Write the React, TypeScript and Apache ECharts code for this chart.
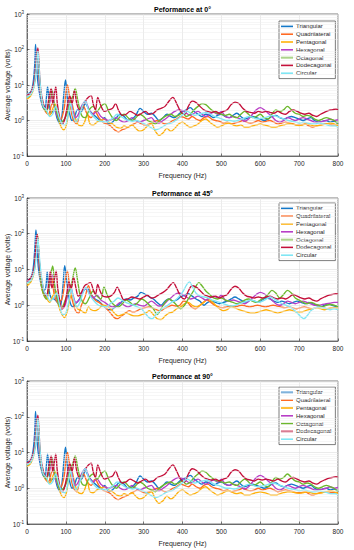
import React, { useEffect, useRef } from "react";
import * as echarts from "echarts";

const FONT = '"Liberation Sans", Arial, Helvetica, sans-serif';

const NAMES = ["Triangular", "Quadrilateral", "Pentagonal", "Hexagonal", "Octagonal", "Dodecagonal", "Circular"];
const COLORS = ["#1478c8", "#ff6a24", "#ffb10a", "#b83ec6", "#6cb82c", "#c4103a", "#80e6f4"];
const TITLES = ["Peformance at 0°", "Peformance at 45°", "Peformance at 90°"];
const X_TICKS = [0, 100, 200, 300, 400, 500, 600, 700, 800];
const Y_MIN = 0.1;
const Y_MAX = 1000;

// ---- 0° (also read identical for 90°) ----
const TRI_0 = [[0,5.5],[10,6.5],[16,12],[20,40],[22,140],[24,60],[27,15],[32,6],[40,2.5],[46,2],[50,4.5],[53,9],[57,3.5],[62,1.6],[70,2],[78,1.1],[85,0.8],[90,1.4],[95,6],[99,14],[104,4],[110,1.5],[116,1],[122,1.2],[130,2],[140,1.8],[150,3],[160,2],[170,1.5],[180,1.2],[190,1],[200,1.2],[210,0.8],[220,0.9],[230,1.2],[240,1.5],[250,1.3],[260,1],[270,1.1],[280,1.4],[291,2.2],[300,1.8],[310,1.5],[320,1.6],[330,1.3],[340,1],[350,1.2],[360,1.5],[370,1.3],[380,1.2],[390,1.5],[400,1.8],[410,2],[420,2.3],[430,1.8],[440,1.5],[450,1.3],[460,1.5],[470,1.4],[480,1.2],[490,1.4],[500,1.5],[510,1.3],[520,1.2],[530,1.4],[540,1.6],[550,1.3],[560,1.1],[570,1.2],[580,1.3],[590,1.2],[600,1.1],[610,1],[620,1.1],[630,1.3],[640,1.4],[650,1.2],[660,1.1],[670,1.2],[680,1.3],[690,1.2],[700,1.1],[710,1],[720,1.1],[730,1.2],[740,1],[750,0.9],[760,0.95],[770,1],[780,0.9],[790,0.95],[800,0.8]];
const QUA_0 = [[0,5],[10,6],[18,11],[23,35],[27,100],[30,40],[35,6],[45,2],[55,1.5],[65,3],[75,1.8],[85,1],[95,2],[100,6],[104,10],[110,4],[115,1.5],[120,1],[128,0.8],[135,1.5],[145,2.5],[155,1.5],[165,1.2],[175,1.8],[185,1.2],[195,0.9],[205,0.8],[215,0.7],[225,0.55],[235,0.48],[245,0.55],[255,0.6],[265,0.7],[275,0.8],[285,0.9],[295,0.8],[305,0.75],[315,0.8],[325,0.9],[335,1],[345,0.9],[355,0.8],[365,0.85],[375,1],[385,1.1],[395,1.3],[405,1.2],[415,1.1],[425,1.3],[435,1.1],[445,1],[455,1.2],[465,1.3],[475,1.1],[485,1],[495,0.95],[505,0.85],[515,0.9],[525,0.8],[535,0.85],[545,0.9],[555,1],[565,0.9],[575,0.85],[585,0.9],[595,1],[605,0.9],[615,0.95],[625,1],[635,0.9],[645,0.8],[655,0.85],[665,0.9],[675,0.85],[685,0.8],[695,0.75],[705,0.75],[715,0.8],[725,0.7],[735,0.65],[745,0.7],[755,0.75],[765,0.8],[775,0.8],[785,0.75],[800,0.75]];
const PEN_0 = [[0,4],[10,5],[18,9],[23,30],[27,90],[30,35],[34,8],[42,2.5],[50,1.8],[58,1.4],[65,2],[72,3],[80,1.2],[88,0.65],[95,0.55],[102,0.8],[108,2],[115,3],[122,1.5],[130,0.8],[140,0.7],[148,0.9],[155,1.5],[162,0.8],[170,0.75],[180,0.9],[190,1],[200,1.1],[210,0.9],[220,0.8],[230,0.65],[240,0.6],[250,0.7],[260,0.65],[270,0.75],[280,0.6],[290,0.5],[300,0.55],[310,0.7],[320,0.8],[330,0.5],[340,0.38],[350,0.45],[360,0.6],[370,0.5],[380,0.6],[390,0.8],[400,0.9],[410,0.75],[420,0.65],[430,0.7],[440,0.8],[450,1],[460,1.1],[470,0.9],[480,0.75],[490,0.65],[500,0.7],[510,0.8],[520,0.85],[530,0.75],[540,0.7],[550,0.75],[560,0.65],[570,0.65],[580,0.7],[590,0.75],[600,0.8],[610,0.75],[620,0.7],[630,0.65],[640,0.65],[650,0.7],[660,0.75],[670,0.8],[680,0.8],[690,0.75],[700,0.72],[710,0.75],[720,0.8],[730,0.75],[740,0.7],[750,0.72],[760,0.75],[770,0.8],[780,0.85],[790,0.8],[800,0.7]];
const HEX_0 = [[0,5],[10,6],[18,11],[22,35],[26,100],[29,40],[33,8],[42,2.5],[50,2],[58,3],[65,7],[72,2],[80,1.2],[88,0.9],[95,1],[105,2],[112,4],[118,2],[125,1.2],[132,1.5],[140,2.5],[150,3.5],[160,2],[170,1.5],[180,1.8],[190,1.3],[200,1.1],[210,1],[220,1.1],[230,1.2],[240,1],[250,0.9],[260,1],[270,1.2],[280,1],[290,0.9],[300,1],[310,1.1],[320,1.2],[330,0.9],[340,0.85],[350,1],[360,1.2],[370,1.5],[380,1.8],[390,2],[400,1.9],[410,1.6],[420,1.4],[430,1.6],[440,1.8],[450,1.5],[460,1.3],[470,1.5],[480,1.7],[490,1.5],[500,1.8],[510,1.3],[520,1.2],[530,1.3],[540,1.2],[550,1.1],[560,0.95],[570,1.1],[580,1.5],[590,2],[600,2.3],[610,2],[620,1.6],[630,1.3],[640,1],[650,0.9],[660,1],[670,1.2],[680,1.1],[690,1],[700,1.1],[710,1.2],[720,1.1],[730,1],[740,0.9],[750,0.9],[760,0.95],[770,1],[780,1.1],[790,1],[800,1.05]];
const OCT_0 = [[0,4.5],[10,5.5],[18,10],[23,32],[27,95],[30,38],[34,8],[42,2.5],[50,1.8],[58,4],[63,7.5],[70,3],[78,1.5],[86,0.9],[94,1],[102,1.5],[110,3],[118,5],[124,8],[130,4],[136,2],[142,1.3],[150,1.2],[160,2],[170,2.5],[180,1.8],[190,2.5],[200,3],[210,1.8],[220,1.2],[230,1],[240,1.3],[250,1.5],[260,1.2],[270,1],[280,1.2],[290,1.5],[300,1.3],[310,1],[320,0.9],[330,0.8],[340,1],[350,1.2],[360,1.4],[370,1.5],[380,1.3],[390,1.4],[400,1.6],[410,1.3],[420,1.5],[430,2],[440,2.5],[450,3],[460,2.8],[470,2.2],[480,1.8],[490,1.6],[500,1.5],[510,1.4],[520,1.5],[530,1.3],[540,1.2],[550,1.5],[560,1.8],[570,1.5],[580,1.2],[590,1.3],[600,1.5],[610,1.2],[620,1.1],[630,1.5],[640,2],[650,1.8],[660,2],[670,2.5],[680,2],[690,1.6],[700,1.5],[710,1.3],[720,1.4],[730,1.3],[740,1.1],[750,1],[760,1.1],[770,1.2],[780,1.1],[790,1],[800,0.8]];
const DOD_0 = [[0,5],[10,6],[18,11],[24,35],[28,110],[31,40],[34,10],[42,3],[50,2],[56,4],[62,8],[66,3],[70,5],[74,9],[78,3],[84,1.2],[90,0.8],[96,1],[102,2],[110,5],[116,3],[122,7],[128,3],[135,2],[142,2.5],[150,3.5],[158,4.5],[165,5],[170,3],[176,2],[182,4.5],[188,3],[195,2],[200,1.8],[210,2],[220,2.2],[228,3],[235,2],[245,1.4],[255,1.5],[265,1.8],[275,1.6],[285,1.4],[295,1.6],[305,1.8],[315,1.5],[325,1.6],[335,2],[345,2.2],[355,2.5],[365,3.5],[375,4.5],[385,3],[395,1.8],[405,1.5],[415,2.5],[425,3.5],[435,3.2],[445,2.5],[455,2],[465,1.8],[475,1.7],[485,1.8],[495,1.6],[505,1.8],[515,2],[525,2.8],[535,3.3],[545,3],[555,2.2],[565,1.8],[575,1.7],[585,1.6],[595,1.8],[605,1.7],[615,1.8],[625,1.7],[635,1.6],[645,1.8],[655,1.6],[665,1.5],[675,1.8],[685,2],[695,1.8],[705,1.6],[715,1.5],[725,1.6],[735,1.4],[745,1.3],[755,1.5],[765,1.7],[775,1.9],[785,2],[795,2.1],[800,2]];
const CIR_0 = [[0,4.5],[10,5.5],[18,9],[24,30],[28,90],[31,35],[35,8],[42,2.5],[50,2],[58,1.3],[66,1.5],[74,2.5],[82,1.3],[90,0.8],[98,0.75],[106,1.5],[112,3],[118,1.5],[126,0.9],[134,1.3],[142,2.5],[150,3.5],[158,2],[166,1.5],[174,1.2],[182,1],[192,0.95],[202,0.9],[212,1],[222,1.2],[232,1.5],[242,1.3],[252,1.1],[262,1],[272,0.95],[282,1],[292,0.9],[302,0.8],[312,0.7],[322,0.6],[332,0.55],[342,0.6],[352,0.7],[362,0.8],[372,0.85],[382,1],[392,1.2],[402,1.5],[412,1.8],[422,1.6],[432,1.4],[442,1.5],[452,1.6],[462,1.7],[472,1.5],[482,1.3],[492,1.2],[502,1.1],[512,1],[522,1],[532,0.95],[542,1],[552,1.1],[562,1.2],[572,1.3],[582,1.2],[592,1.1],[602,1.15],[612,1.2],[622,1.3],[632,1.4],[642,1.3],[652,1.2],[662,1.1],[672,1],[682,0.95],[692,0.9],[702,0.85],[712,0.9],[722,0.85],[732,0.8],[742,0.8],[752,0.85],[762,0.8],[772,0.75],[782,0.7],[792,0.7],[800,0.65]];

// ---- 45° ----
const TRI_45 = [[0,5],[10,6],[16,11],[20,38],[23,128],[26,45],[29,12],[34,5],[42,2.5],[48,3],[52,8.5],[56,3],[62,1.6],[70,1.5],[78,1.2],[85,0.9],[92,3],[97,12.8],[103,4],[110,1.3],[118,0.9],[125,1.1],[135,1.5],[145,2.5],[155,3],[165,2],[175,1.5],[185,1.3],[195,1],[205,0.8],[215,0.75],[225,0.85],[235,1],[245,1.3],[255,1.5],[265,1.4],[275,1.6],[285,1.8],[293,2.3],[305,2],[315,1.7],[325,1.5],[335,1.2],[345,1],[355,1.3],[365,1.5],[375,1.3],[385,1.4],[395,1.7],[405,1.9],[415,2.1],[425,1.8],[435,1.5],[445,1.3],[455,1],[465,1.2],[475,1.3],[485,1.2],[495,1.1],[505,1.2],[515,1.3],[525,1.5],[535,1.7],[545,1.5],[555,1.3],[565,1.2],[575,1.4],[585,1.3],[595,1.2],[605,1.4],[615,1.6],[625,1.5],[635,1.3],[645,1.2],[655,1.3],[665,1.2],[675,1.1],[685,1.2],[695,1.3],[705,1.2],[715,1.1],[725,1.2],[735,1.1],[745,1],[755,0.9],[765,1],[775,1.1],[785,1],[800,0.9]];
const QUA_45 = [[0,4.5],[10,5.5],[18,10],[23,32],[27,95],[30,35],[34,7],[40,2.5],[50,1.5],[58,3.5],[64,6],[70,2],[80,1.2],[90,1.5],[98,5],[104,9],[110,3],[118,1.2],[125,0.7],[132,0.6],[140,1],[150,1.8],[158,3.5],[165,2],[175,1.4],[185,1.2],[195,1],[205,0.8],[215,0.6],[225,0.45],[233,0.42],[243,0.5],[253,0.6],[263,0.7],[273,0.65],[283,0.7],[293,0.8],[303,0.85],[313,0.9],[323,0.85],[333,0.75],[343,0.7],[353,0.8],[363,0.9],[373,1],[383,0.95],[393,1],[403,1.3],[413,1.2],[423,0.9],[433,0.8],[443,0.95],[453,1.2],[463,1.4],[473,1.2],[483,1],[493,0.9],[503,0.85],[513,0.9],[523,0.95],[533,0.9],[543,0.95],[553,1],[563,0.95],[573,0.9],[583,0.95],[593,1],[603,0.95],[613,0.9],[623,0.95],[633,1],[643,0.95],[653,0.9],[663,0.85],[673,0.9],[683,0.85],[693,0.8],[703,0.85],[713,0.9],[723,0.85],[733,0.8],[743,0.85],[753,0.9],[763,0.85],[773,0.8],[783,0.85],[800,0.85]];
const PEN_45 = [[0,3.5],[10,4.5],[18,8],[23,27],[27,80],[30,30],[34,7],[40,2.5],[50,1.6],[58,1.2],[66,1.8],[74,2.5],[82,0.9],[90,0.55],[96,0.45],[104,0.7],[110,1.5],[116,2],[122,1.2],[130,0.8],[140,0.7],[150,0.6],[158,0.9],[165,0.75],[175,0.7],[185,0.8],[195,1],[205,0.95],[215,0.8],[225,0.6],[235,0.5],[245,0.55],[255,0.6],[265,0.55],[275,0.5],[285,0.5],[295,0.55],[305,0.6],[315,0.7],[325,0.55],[335,0.42],[345,0.4],[355,0.5],[365,0.6],[375,0.65],[385,0.8],[395,0.9],[405,1.1],[415,1.2],[425,1],[435,0.9],[445,1],[455,1.2],[465,1.5],[475,1.3],[485,1],[495,0.8],[505,0.7],[515,0.75],[525,0.9],[535,0.85],[545,0.75],[555,0.7],[565,0.65],[575,0.6],[585,0.6],[595,0.65],[605,0.7],[615,0.75],[625,0.7],[635,0.65],[645,0.6],[655,0.65],[665,0.7],[675,0.75],[685,0.7],[695,0.65],[705,0.65],[715,0.7],[725,0.75],[735,0.8],[745,0.85],[755,0.8],[765,0.75],[775,0.8],[785,0.85],[800,0.8]];
const HEX_45 = [[0,4.5],[10,5.5],[18,10],[22,30],[26,90],[29,35],[33,8],[40,3],[50,2],[58,3.5],[66,7],[74,2],[82,1.1],[90,0.8],[98,1],[106,2.2],[112,3.5],[118,2],[126,1.2],[134,1.4],[142,2.2],[150,3],[160,2.2],[170,1.6],[180,1.9],[190,1.4],[200,1.2],[210,1],[220,0.9],[230,1],[240,1.2],[250,1],[260,0.9],[270,1],[280,1.1],[290,1],[300,0.95],[310,1.1],[320,1.3],[330,1.1],[340,0.95],[350,1],[360,1.3],[370,1.6],[380,2],[390,2.2],[400,2],[410,1.7],[420,1.5],[430,1.6],[440,1.8],[450,1.6],[460,1.4],[470,1.6],[480,1.8],[490,1.6],[500,1.9],[510,1.4],[520,1.3],[530,1.4],[540,1.3],[550,1.2],[560,1.1],[570,1.3],[580,1.6],[590,2],[600,2.3],[610,2.1],[620,1.7],[630,1.4],[640,1.1],[650,1],[660,1.1],[670,1.3],[680,1.2],[690,1.1],[700,1.2],[710,1.3],[720,1.2],[730,1.1],[740,1],[750,1],[760,1.05],[770,1.1],[780,1.15],[790,1.2],[800,1.2]];
const OCT_45 = [[0,4],[10,5],[18,9],[23,30],[27,90],[30,35],[34,7],[40,2.5],[50,1.5],[56,3],[62,8],[66,12.5],[72,3],[80,1.2],[88,0.8],[96,1.2],[104,2],[112,3],[118,6],[124,11],[130,5],[136,2],[142,1.3],[150,1.1],[160,1.6],[170,2.5],[180,1.8],[190,1.5],[198,3.2],[206,2],[215,1.3],[225,1],[235,0.9],[245,1.1],[255,1.4],[265,1.2],[275,1],[285,1.2],[295,1.5],[305,1.3],[315,1],[325,0.8],[335,0.55],[345,0.8],[355,1.2],[365,1.5],[375,1.3],[385,1],[395,0.8],[405,1],[415,1.5],[425,2.2],[435,3.5],[442,4.3],[450,3.5],[460,2.5],[470,2],[480,1.6],[490,1.5],[500,1.6],[510,1.4],[520,1.3],[530,1.2],[540,1.1],[550,1.2],[560,1.4],[570,1.5],[580,1.3],[590,1.2],[600,1.4],[610,1.6],[620,2],[630,2.6],[640,2.2],[650,1.6],[660,2],[670,2.6],[680,2.2],[690,1.6],[700,1.4],[710,1.2],[720,1.1],[730,1.2],[740,1.1],[750,1],[760,0.9],[770,1],[780,1.05],[790,1],[800,0.9]];
const DOD_45 = [[0,4.8],[10,5.8],[18,10],[22,30],[26,95],[29,40],[34,10],[42,3],[50,1.8],[56,4],[60,9],[64,3],[70,5],[75,9],[79,3],[85,1.2],[90,0.8],[96,1],[102,2],[108,4.5],[114,3],[120,6],[126,3],[132,1.8],[140,2.3],[148,3.5],[156,4],[163,4.3],[170,2.8],[176,2],[182,3.8],[188,2.5],[195,1.8],[205,1.7],[215,1.8],[225,2.3],[232,3.2],[240,2.2],[250,1.4],[260,1.5],[270,1.7],[280,1.6],[290,1.5],[300,1.7],[310,1.9],[320,1.6],[330,1.7],[340,2],[350,2.3],[360,2.8],[370,3.8],[376,4.3],[385,3],[395,1.8],[405,1.5],[415,2.5],[425,3.5],[435,3.2],[445,2.6],[455,2],[465,1.8],[475,1.7],[485,1.8],[495,1.6],[505,1.8],[515,2],[525,2.8],[535,3.4],[545,3],[555,2.2],[565,1.8],[575,1.7],[585,1.6],[595,1.7],[605,1.6],[615,1.7],[625,1.8],[635,1.6],[645,1.5],[655,1.6],[665,1.5],[675,1.7],[685,2],[695,1.8],[705,1.6],[715,1.5],[725,1.6],[735,1.4],[745,1.3],[755,1.5],[765,1.7],[775,1.9],[785,2],[795,2.1],[800,2.05]];
const CIR_45 = [[0,4.2],[10,5],[18,8],[24,25],[28,75],[31,30],[36,8],[44,2.5],[52,1.8],[60,1.3],[68,1.6],[76,2.2],[84,1],[92,0.55],[100,0.6],[108,1.4],[114,2.8],[120,1.5],[128,0.9],[136,1.2],[144,2.2],[152,3.2],[160,2],[168,1.5],[176,1.2],[184,1],[194,0.95],[204,0.9],[214,1.1],[224,1.3],[234,1.6],[244,1.4],[254,1.2],[264,1.1],[274,1],[284,0.9],[294,0.8],[304,0.6],[314,0.45],[322,0.42],[332,0.55],[342,0.7],[352,0.85],[362,1],[372,1.2],[382,1.4],[392,1.8],[402,2.5],[411,3.8],[418,4.5],[426,3.2],[436,2.1],[446,1.8],[456,1.7],[466,1.6],[476,1.4],[486,1.3],[496,1.2],[506,1.1],[516,1],[526,0.95],[536,1],[546,1.1],[556,1.2],[566,1.3],[576,1.4],[586,1.3],[596,1.2],[606,1.3],[616,1.5],[626,1.7],[636,1.5],[646,1.3],[656,1.1],[666,1],[676,0.9],[686,0.75],[696,0.6],[704,0.48],[712,0.42],[720,0.5],[730,0.7],[740,0.85],[750,0.9],[760,0.85],[770,0.8],[780,0.75],[790,0.8],[800,0.75]];

const PANELS = [
  [TRI_0, QUA_0, PEN_0, HEX_0, OCT_0, DOD_0, CIR_0],
  [TRI_45, QUA_45, PEN_45, HEX_45, OCT_45, DOD_45, CIR_45],
  [TRI_0, QUA_0, PEN_0, HEX_0, OCT_0, DOD_0, CIR_0],
];

const MINOR_Y = [0.2, 0.3, 0.4, 0.5, 0.6, 0.7, 0.8, 0.9, 2, 3, 4, 5, 6, 7, 8, 9, 20, 30, 40, 50, 60, 70, 80, 90, 200, 300, 400, 500, 600, 700, 800, 900];

const GRIDS = [
  { top: 14, height: 142, legendTop: 21, titleY: 9 },
  { top: 198, height: 143, legendTop: 203, titleY: 193 },
  { top: 381, height: 143, legendTop: 387, titleY: 376 },
];
const LEFT = 27;
const WIDTH = 311;
const AXIS_COLOR = "#262626";

export default function App() {
  const ref = useRef<HTMLDivElement>(null);
  useEffect(() => {
    if (!ref.current) return;
    const chart = echarts.init(ref.current, undefined, { renderer: "svg" });
    const grid: any[] = [];
    const xAxis: any[] = [];
    const yAxis: any[] = [];
    const legend: any[] = [];
    const series: any[] = [];
    const graphic: any[] = [];
    GRIDS.forEach((g, i) => {
      grid.push({
        left: LEFT, top: g.top, width: WIDTH, height: g.height,
        containLabel: false, outerBoundsMode: "none",
        show: true, borderColor: AXIS_COLOR, borderWidth: 0.6, backgroundColor: "#fff",
      });
      xAxis.push({
        type: "value", gridIndex: i, min: X_TICKS[0], max: X_TICKS[X_TICKS.length - 1], interval: 100,
        name: "Frequency (Hz)", nameLocation: "middle", nameGap: 16, nameMoveOverlap: false,
        nameTextStyle: { fontFamily: FONT, fontSize: 7, color: "#262626" },
        axisLine: { show: true, lineStyle: { color: AXIS_COLOR, width: 0.6 } },
        axisTick: { show: true, inside: true, length: 2.5, lineStyle: { color: AXIS_COLOR, width: 0.6 } },
        axisLabel: { fontFamily: FONT, fontSize: 6.5, color: "#262626", margin: 4 },
        splitLine: { show: true, lineStyle: { color: "#dedede", width: 0.6 } },
      });
      yAxis.push({
        type: "log", logBase: 10, gridIndex: i, min: Y_MIN, max: Y_MAX,
        name: "Average voltage (volts)", nameLocation: "middle", nameGap: 20, nameMoveOverlap: false,
        nameTextStyle: { fontFamily: FONT, fontSize: 7, color: "#262626", verticalAlign: "middle" },
        axisLine: { show: true, lineStyle: { color: AXIS_COLOR, width: 0.6 } },
        axisTick: { show: true, inside: true, length: 2.5, lineStyle: { color: AXIS_COLOR, width: 0.6 } },
        axisLabel: {
          fontFamily: FONT, fontSize: 6.5, color: "#262626", margin: 3, lineHeight: 9,
          formatter: (v: number) => `10{sup|${Math.round(Math.log10(v))}}`,
          rich: { sup: { fontFamily: FONT, fontSize: 4.5, lineHeight: 9, verticalAlign: "top", color: "#262626" } },
        },
        splitLine: { show: true, lineStyle: { color: "#dedede", width: 0.6 } },
      });
      legend.push({
        orient: "vertical", left: 279, top: g.legendTop, data: NAMES,
        icon: "rect", itemWidth: 12, itemHeight: 1.6, itemGap: 1,
        textStyle: { fontFamily: FONT, fontSize: 6, lineHeight: 6.8, color: "#262626", padding: [0, 0, 0, -2] },
        borderColor: AXIS_COLOR, borderWidth: 0.6, backgroundColor: "#fff",
        padding: [2, 4, 2, 2], selectedMode: false,
      });
      series.push({
        type: "line", name: "minor-grid-" + i, xAxisIndex: i, yAxisIndex: i,
        data: [[0, 1], [800, 1]], symbol: "none", lineStyle: { opacity: 0 }, silent: true, z: 1,
        markLine: {
          silent: true, symbol: "none", label: { show: false },
          lineStyle: { color: "#ececec", width: 0.5, type: "solid" },
          data: MINOR_Y.map((v) => ({ yAxis: v })),
        },
      });
      PANELS[i].forEach((d, k) => {
        series.push({
          type: "line", name: NAMES[k], xAxisIndex: i, yAxisIndex: i, data: d,
          symbol: "none", smooth: 0.35, z: 3,
          lineStyle: { color: COLORS[k], width: 1.35 },
          itemStyle: { color: COLORS[k] },
        });
      });
      graphic.push({
        type: "text", x: LEFT + WIDTH / 2, y: g.titleY,
        style: { text: TITLES[i], font: `bold 7px ${FONT}`, fill: "#000", align: "center", verticalAlign: "middle" },
      });
    });
    chart.setOption({
      animation: false,
      backgroundColor: "#fff",
      grid, xAxis, yAxis, legend, series, graphic,
    });
    return () => chart.dispose();
  }, []);
  return <div ref={ref} style={{ position: "fixed", left: 0, top: 0, width: 354, height: 550 }} />;
}
